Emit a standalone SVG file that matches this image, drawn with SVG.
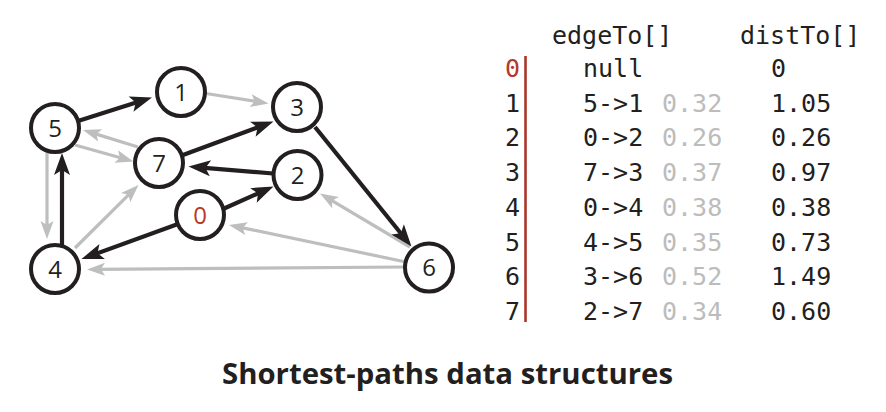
<svg xmlns="http://www.w3.org/2000/svg" width="886" height="412" viewBox="0 0 886 412">
<style>
.bk{stroke:#231f20;stroke-width:4.2;fill:none;marker-end:url(#ab)}
.gr{stroke:#bdbebf;stroke-width:3.2;fill:none;marker-end:url(#ag)}
.nd circle{fill:#fff;stroke:#231f20;stroke-width:4}
.nd text{font-family:"Open Sans","Noto Sans",sans-serif;font-size:24px;text-anchor:middle;fill:#231f20}
.mono{font-family:"DejaVu Sans Mono","Liberation Mono",monospace;font-size:25px;fill:#231f20}
.w{fill:#bcbcbc}
.red{fill:#b5392a}
</style>
<defs>
<marker id="ab" markerUnits="userSpaceOnUse" markerWidth="22" markerHeight="16" refX="12" refY="8" orient="auto" overflow="visible">
<path d="M0,0 L22,8 L0,16 L5,8 z" fill="#231f20"/>
</marker>
<marker id="ag" markerUnits="userSpaceOnUse" markerWidth="18" markerHeight="13" refX="10" refY="6.5" orient="auto" overflow="visible">
<path d="M0,0 L18,6.5 L0,13 L4,6.5 z" fill="#bdbebf"/>
</marker>
</defs>
<g id="connectors">
<line class="gr" x1="206" y1="93.5" x2="260.6" y2="102.2"/>
<line class="gr" x1="47" y1="152" x2="47" y2="231"/>
<line class="gr" x1="138" y1="147" x2="90.6" y2="132.4"/>
<line class="gr" x1="75" y1="145" x2="125.8" y2="159.3"/>
<line class="gr" x1="75" y1="248" x2="132.8" y2="190.6"/>
<line class="gr" x1="410" y1="247" x2="326.9" y2="197.6"/>
<line class="gr" x1="406" y1="262" x2="236.8" y2="226.6"/>
<line class="gr" x1="404" y1="267" x2="95" y2="269.4"/>
<line class="bk" x1="78" y1="121" x2="142.45" y2="100.5"/>
<line class="bk" x1="183" y1="155" x2="264.1" y2="125"/>
<line class="bk" x1="315" y1="127" x2="405.2" y2="238.7"/>
<line class="bk" x1="273" y1="173.5" x2="198.5" y2="167.3"/>
<line class="bk" x1="223" y1="209" x2="264.4" y2="190.55"/>
<line class="bk" x1="178" y1="224" x2="90.9" y2="255.6"/>
<line class="bk" x1="62" y1="246" x2="62" y2="163"/>
</g>
<g id="node0" class="nd"><circle cx="200" cy="215" r="24"/><text x="200" y="223.5" style="fill:#b5392a">0</text></g>
<g id="node1" class="nd"><circle cx="181" cy="92" r="24"/><text x="181" y="100.5">1</text></g>
<g id="node2" class="nd"><circle cx="297.5" cy="175" r="24"/><text x="297.5" y="183.5">2</text></g>
<g id="node3" class="nd"><circle cx="297" cy="107" r="24"/><text x="297" y="115.5">3</text></g>
<g id="node4" class="nd"><circle cx="55" cy="269" r="24"/><text x="55" y="277.5">4</text></g>
<g id="node5" class="nd"><circle cx="55" cy="128" r="24"/><text x="55" y="136.5">5</text></g>
<g id="node6" class="nd"><circle cx="429" cy="267.5" r="24"/><text x="429" y="276">6</text></g>
<g id="node7" class="nd"><circle cx="159" cy="163" r="24"/><text x="159" y="171.5">7</text></g>
<g id="table" class="mono">
<text x="552" y="44">edgeTo[]</text>
<text x="740" y="44">distTo[]</text>
<line x1="525.5" y1="56" x2="525.5" y2="322" stroke="#a8372b" stroke-width="2.6"/>
<text x="505" y="77" class="red">0</text><text x="583" y="77">null</text><text x="771" y="77">0</text>
<text x="505" y="111.7">1</text><text x="583" y="111.7">5-&gt;1</text><text x="662" y="111.7" class="w">0.32</text><text x="771" y="111.7">1.05</text>
<text x="505" y="146.4">2</text><text x="583" y="146.4">0-&gt;2</text><text x="662" y="146.4" class="w">0.26</text><text x="771" y="146.4">0.26</text>
<text x="505" y="181.1">3</text><text x="583" y="181.1">7-&gt;3</text><text x="662" y="181.1" class="w">0.37</text><text x="771" y="181.1">0.97</text>
<text x="505" y="215.8">4</text><text x="583" y="215.8">0-&gt;4</text><text x="662" y="215.8" class="w">0.38</text><text x="771" y="215.8">0.38</text>
<text x="505" y="250.5">5</text><text x="583" y="250.5">4-&gt;5</text><text x="662" y="250.5" class="w">0.35</text><text x="771" y="250.5">0.73</text>
<text x="505" y="285.2">6</text><text x="583" y="285.2">3-&gt;6</text><text x="662" y="285.2" class="w">0.52</text><text x="771" y="285.2">1.49</text>
<text x="505" y="319.9">7</text><text x="583" y="319.9">2-&gt;7</text><text x="662" y="319.9" class="w">0.34</text><text x="771" y="319.9">0.60</text>
</g>
<text id="title" x="222" y="384" textLength="451" lengthAdjust="spacingAndGlyphs" style="font-family:'Open Sans','Noto Sans',sans-serif;font-size:28px;font-weight:700;fill:#231f20">Shortest-paths data structures</text>
</svg>
